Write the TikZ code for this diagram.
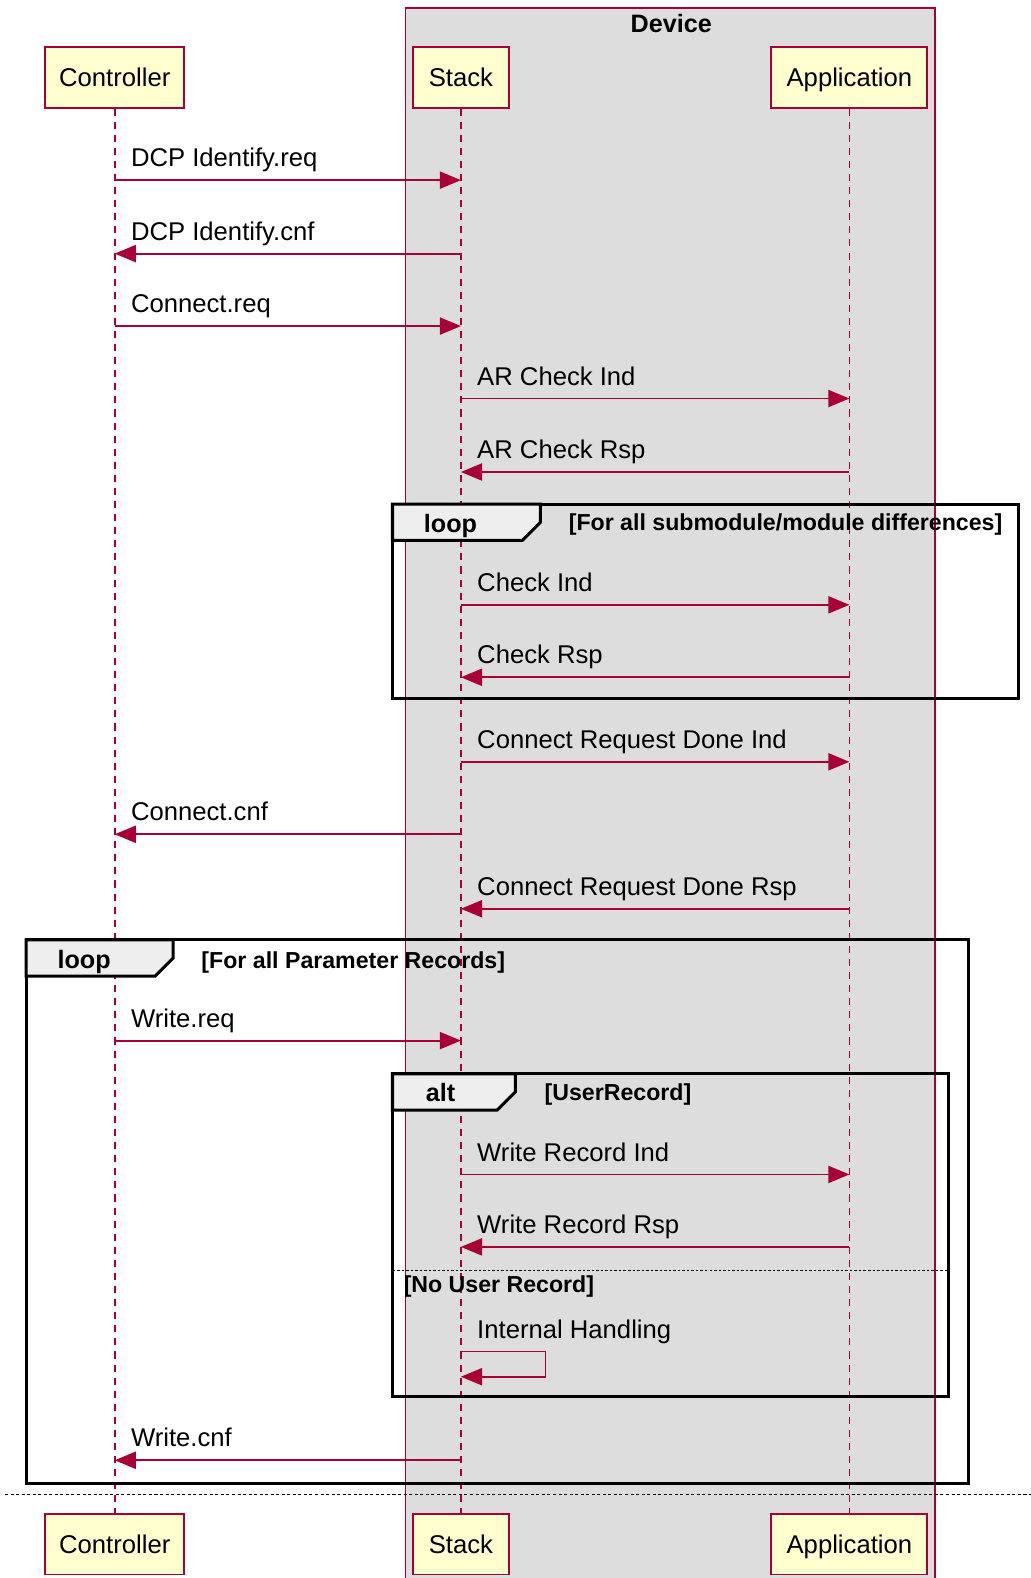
\documentclass[tikz,border=0pt]{standalone}
\usepackage{fontspec}
\setmainfont{Liberation Sans}
\usetikzlibrary{arrows.meta}
\definecolor{umlred}{HTML}{A80036}
\definecolor{umlfill}{HTML}{FEFECE}
\definecolor{boxgrey}{HTML}{DDDDDD}
\definecolor{tabgrey}{HTML}{EEEEEE}
\newcommand{\umlmsg}[5]{%
  \coordinate (f#3) at (#1,#3);
  \coordinate (t#3) at (#2,#3);
  \draw[msgline] (f#3) -- (t#3);
  \node[msglabel] (l#3) at (#4,#3-13.3) {#5};}
\begin{document}
\begin{tikzpicture}[x=1pt,y=-1pt,
  participant/.style={draw=umlred, fill=umlfill, line width=1.8pt, inner sep=0pt,
    minimum height=60pt, text height=18.3pt, text depth=0pt,
    font=\fontsize{25.5}{30}\selectfont},
  lifeline/.style={draw=umlred, line width=1.6pt, dash pattern=on 7pt off 6pt},
  msgline/.style={draw=umlred, line width=1.8pt, -{Triangle[length=21pt,width=17pt]}},
  msglabel/.style={anchor=base west, inner sep=0pt, font=\fontsize{25.5}{30}\selectfont},
  frameline/.style={draw=black, line width=3pt},
  tabshape/.style={draw=black, line width=3pt, fill=tabgrey, line join=miter},
  framelabel/.style={anchor=base west, inner sep=0pt, font=\bfseries\fontsize{25}{30}\selectfont},
  condlabel/.style={anchor=base west, inner sep=0pt, font=\bfseries\fontsize{23}{27}\selectfont},
]
\useasboundingbox (0,0) rectangle (1024,1568);
\fill[white] (0,0) rectangle (1024,1568);
% Device box
\draw[umlred, fill=boxgrey, line width=1.6pt] (403,8) rectangle (929,1580);
\node[anchor=base, inner sep=0pt, font=\bfseries\fontsize{25}{30}\selectfont] (devtitle) at (667,32) {Device};
% participants
\node[participant, minimum width=138pt] (ctop) at (114,77) {Controller};
\node[participant, minimum width=96pt] (stop) at (458,77) {Stack};
\node[participant, minimum width=155pt] (atop) at (844,77) {Application};
\node[participant, minimum width=138pt] (cbot) at (114,1534.5) {Controller};
\node[participant, minimum width=96pt] (sbot) at (458,1534.5) {Stack};
\node[participant, minimum width=155pt] (abot) at (844,1534.5) {Application};
% lifelines
\draw[lifeline] (ctop.south) -- (cbot.north);
\draw[lifeline] (stop.south) -- (sbot.north);
\draw[lifeline] (atop.south) -- (abot.north);
% messages
\umlmsg{114}{458}{179}{130}{DCP Identify.req}
\umlmsg{458}{114}{252}{130}{DCP Identify.cnf}
\umlmsg{114}{458}{324}{130}{Connect.req}
\umlmsg{458}{844}{396}{474}{AR Check Ind}
\umlmsg{844}{458}{469}{474}{AR Check Rsp}
\umlmsg{458}{844}{601}{474}{Check Ind}
\umlmsg{844}{458}{673}{474}{Check Rsp}
\umlmsg{458}{844}{757}{474}{Connect Request Done Ind}
\umlmsg{458}{114}{829}{130}{Connect.cnf}
\umlmsg{844}{458}{903}{474}{Connect Request Done Rsp}
\umlmsg{114}{458}{1034}{130}{Write.req}
\umlmsg{458}{844}{1167}{474}{Write Record Ind}
\umlmsg{844}{458}{1239}{474}{Write Record Rsp}
% self message
\coordinate (selfa) at (458,1343);
\coordinate (selfb) at (542,1343);
\coordinate (selfc) at (542,1368);
\coordinate (selfd) at (458,1368);
\draw[msgline] (selfa) -- (selfb) -- (selfc) -- (selfd);
\node[msglabel] (lself) at (474,1329.7) {Internal Handling};
\umlmsg{458}{114}{1451}{130}{Write.cnf}
% loop 1
\draw[frameline] (390,501) rectangle (1012,694);
\draw[tabshape] (390,501) -- (537,501) -- (537,519) -- (519,537) -- (390,537) -- cycle;
\node[framelabel] (loopa) at (421,529) {loop};
\node[condlabel] (conda) at (565,527) {[For all submodule/module differences]};
% loop 2
\draw[frameline] (26,934) rectangle (962,1474);
\draw[tabshape] (26,934) -- (172,934) -- (172,952) -- (154,970) -- (26,970) -- cycle;
\node[framelabel] (loopb) at (57,962) {loop};
\node[condlabel] (condb) at (200,962) {[For all Parameter Records]};
% alt
\draw[frameline] (390,1067) rectangle (942,1388);
\draw[tabshape] (390,1067) -- (512,1067) -- (512,1085) -- (494,1103) -- (390,1103) -- cycle;
\node[framelabel] (altlab) at (423,1095) {alt};
\node[condlabel] (condc) at (541,1094) {[UserRecord]};
\draw[black, line width=1pt, dash pattern=on 2.5pt off 2pt] (390,1262) -- (942,1262);
\node[condlabel] (condd) at (401,1284) {[No User Record]};
% bottom separator
\draw[black, line width=1.2pt, dash pattern=on 3pt off 2.5pt] (5,1485) -- (1024,1485);
\end{tikzpicture}
\end{document}
